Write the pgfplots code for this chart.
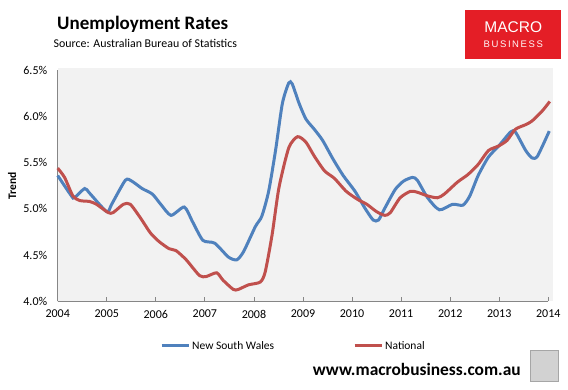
\documentclass[border=0pt]{standalone}
\usepackage{pgfplots}
\pgfplotsset{compat=1.18}
\usepackage{fontspec}
\setmainfont{Carlito}
\newfontfamily\logofont{Liberation Sans}
\definecolor{nswblue}{RGB}{79,129,189}
\definecolor{natred}{RGB}{192,80,77}
\definecolor{bggray}{RGB}{242,242,242}
\definecolor{axgray}{RGB}{134,134,134}
\definecolor{logored}{RGB}{228,30,38}
\begin{document}
\begin{tikzpicture}[x=1pt,y=1pt]
\path[use as bounding box] (0,0) rectangle (568,390);
\fill[bggray] (57.7,88.5) rectangle (553,321.7);
\begin{axis}[
  at={(57.7pt,88.5pt)}, anchor=south west,
  scale only axis, width=490.6pt, height=231.5pt,
  xmin=2004, xmax=2014, ymin=4, ymax=6.5,
  clip=false,
  axis lines*=left,
  axis line style={axgray, line width=0.8pt},
  xtick={2004,2005,...,2014},
  ytick={4,4.5,...,6.5},
  xticklabel style={/pgf/number format/1000 sep={}, font=\fontsize{12}{14}\selectfont, yshift=-5pt},
  yticklabel style={font=\fontsize{12}{14}\selectfont, xshift=-7pt},
  yticklabel={\pgfmathprintnumber[fixed,fixed zerofill,precision=1]{\tick}\%},
  /pgf/number format/assume math mode=true,
  tick align=inside,
  xtick style={axgray, line width=0.8pt},
  major tick length=4pt,
  ytick style={draw=none},
  ylabel={\textbf{Trend}},
  ylabel style={at={(axis description cs:-0.093,0.5)}, anchor=center, font=\fontsize{11.5}{13}\selectfont},
  legend columns=2,
  legend style={draw=none, fill=none, at={(axis description cs:0.2085,-0.1922)}, anchor=west,
    font=\fontsize{11.5}{13}\selectfont, inner sep=0pt,
    /tikz/column 2/.style={column sep=77pt}},
  legend image code/.code={\draw[#1] (0pt,0pt) -- (27pt,0pt);},
  legend cell align=left,
]
\addplot[nswblue, line width=3pt, smooth, tension=0.4] coordinates {
(2004.00,5.36) (2004.28,5.14) (2004.34,5.12) (2004.55,5.22) (2004.65,5.17)
(2005.00,4.97) (2005.10,5.05) (2005.38,5.31) (2005.51,5.30) (2005.72,5.22)
(2005.93,5.16) (2006.10,5.05) (2006.31,4.93) (2006.58,5.02) (2006.75,4.86)
(2006.96,4.66) (2007.20,4.63) (2007.48,4.48) (2007.65,4.45) (2007.79,4.54)
(2008.03,4.81) (2008.16,4.92) (2008.30,5.19) (2008.44,5.63) (2008.58,6.14)
(2008.71,6.36) (2008.78,6.35) (2008.92,6.14) (2009.06,5.97) (2009.23,5.86)
(2009.40,5.74) (2009.61,5.54) (2009.82,5.36) (2010.06,5.19) (2010.26,5.01)
(2010.43,4.88) (2010.54,4.88) (2010.67,5.01) (2010.88,5.21) (2011.05,5.30)
(2011.23,5.34) (2011.33,5.31) (2011.54,5.12) (2011.78,4.99) (2012.05,5.05)
(2012.26,5.04) (2012.40,5.14) (2012.57,5.36) (2012.78,5.56) (2012.99,5.68)
(2013.23,5.83) (2013.33,5.83) (2013.54,5.63) (2013.67,5.55) (2013.78,5.57)
(2014.02,5.84)
};
\addlegendentry{New South Wales}
\addplot[natred, line width=3pt, smooth, tension=0.4] coordinates {
(2004.00,5.44) (2004.14,5.34) (2004.31,5.14) (2004.45,5.09) (2004.65,5.08)
(2004.79,5.05) (2005.03,4.96) (2005.13,4.96) (2005.34,5.05) (2005.48,5.05)
(2005.69,4.90) (2005.89,4.74) (2006.06,4.65) (2006.27,4.57) (2006.41,4.55)
(2006.62,4.45) (2006.89,4.28) (2007.03,4.27) (2007.24,4.31) (2007.37,4.23)
(2007.58,4.13) (2007.68,4.13) (2007.89,4.18) (2008.13,4.21) (2008.23,4.32)
(2008.37,4.72) (2008.51,5.23) (2008.71,5.66) (2008.89,5.78) (2009.06,5.72)
(2009.23,5.57) (2009.44,5.41) (2009.64,5.33) (2009.88,5.19) (2010.12,5.10)
(2010.30,5.05) (2010.50,4.97) (2010.67,4.93) (2010.78,4.96) (2010.98,5.12)
(2011.19,5.19) (2011.33,5.18) (2011.54,5.14) (2011.74,5.12) (2011.88,5.16)
(2012.15,5.29) (2012.36,5.37) (2012.57,5.48) (2012.78,5.63) (2012.99,5.68)
(2013.16,5.74) (2013.33,5.86) (2013.54,5.91) (2013.67,5.95) (2013.88,6.06)
(2014.03,6.16)
};
\addlegendentry{National}
\end{axis}
% title and source
\node[anchor=base west, inner sep=0pt, font=\fontsize{19}{21}\selectfont\bfseries] at (57,360) {Unemployment Rates};
\node[anchor=base west, inner sep=0pt, font=\fontsize{11.9}{13}\selectfont] at (53.5,342.3) {Source: Australian Bureau of Statistics};
% logo
\fill[logored] (465,331) rectangle (560.7,380);
\node[anchor=center, inner sep=0pt, text=white, font=\logofont\fontsize{15.5}{17}\selectfont] at (513.3,363.3) {MACRO};
\node[anchor=center, inner sep=0pt, text=white!90!pink, font=\logofont\fontsize{9.5}{11}\selectfont] at (513.3,346.2) {B\,U\,S\,I\,N\,E\,S\,S};
% footer
\node[anchor=base west, inner sep=0pt, font=\fontsize{17.4}{19}\selectfont\bfseries] at (312.7,14) {www.macrobusiness.com.au};
\filldraw[fill=gray!35, draw=gray!70, line width=0.8pt] (530,8.3) rectangle (558,40);
\end{tikzpicture}
\end{document}
